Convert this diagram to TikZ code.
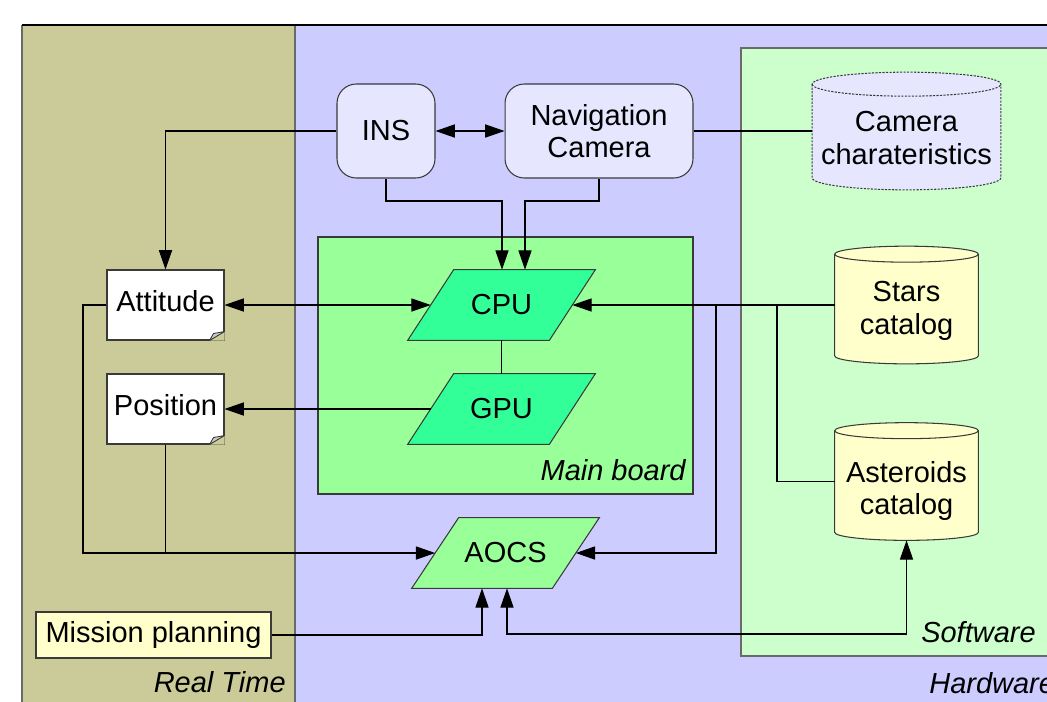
\documentclass[tikz,border=0pt]{standalone}
\usepackage{fontspec}
\setmainfont{Liberation Sans}
\usetikzlibrary{arrows.meta,calc}

\definecolor{rtbg}{HTML}{CBCB99}
\definecolor{hwbg}{HTML}{CCCCFF}
\definecolor{swbg}{HTML}{CCFFCC}
\definecolor{mbbg}{HTML}{99FF99}
\definecolor{proc}{HTML}{33FF99}
\definecolor{devbg}{HTML}{E6E6FF}
\definecolor{dbbg}{HTML}{FFFFCC}
\definecolor{edge}{HTML}{3A3A3A}
\definecolor{frame}{HTML}{6A6A6A}

\tikzset{
  every node/.style={font=\fontsize{16.5}{18.5}\selectfont, align=center, inner sep=0pt},
  panel/.style={draw=frame, line width=0.8pt},
  device/.style={draw=edge, fill=devbg, rounded corners=11pt, line width=0.6pt},
  note/.style={draw=edge, fill=white, line width=0.6pt, text depth=0.18cm},
  box/.style={draw=none, minimum width=#1},
  unit/.style={draw=edge, line width=0.6pt},
  link/.style={draw=black, line width=0.6pt},
  tip/.style={-{Triangle[length=11pt,width=7.5pt]}},
  tips/.style={{Triangle[length=11pt,width=7.5pt]}-{Triangle[length=11pt,width=7.5pt]}},
  caption/.style={font=\fontsize{16.5}{18.5}\selectfont\itshape},
}

% parallelogram drawn around a node: name, half skew, style
\newcommand{\slanted}[3]{%
  \path[#3] ($(#1.south west)+(-#2,0cm)$) -- ($(#1.north west)+(#2,0cm)$)
    -- ($(#1.north east)+(#2,0cm)$) -- ($(#1.south east)+(-#2,0cm)$) -- cycle;}

% storage drum drawn around a node: name, end radius, style
\newcommand{\drum}[3]{%
  \path[#3] let \p1=(#1.north west), \p2=(#1.south east), \n1={(\x2-\x1)/2} in
    ({\x1},{\y1-#2}) -- ({\x1},{\y2+#2})
    arc[start angle=180,end angle=360,x radius=\n1,y radius=#2]
    -- ({\x2},{\y1-#2})
    arc[start angle=0,end angle=180,x radius=\n1,y radius=#2] -- cycle;
  \path[#3,fill=none] let \p1=(#1.north west), \p2=(#1.south east), \n1={(\x2-\x1)/2} in
    ({\x1},{\y1-#2}) arc[start angle=180,end angle=360,x radius=\n1,y radius=#2];}

% folded corner of a note
\newcommand{\dogear}[1]{%
  \fill[rtbg] (#1.south east) -- ++(-0.3cm,0cm) -- ++(0.3cm,0.18cm) -- cycle;
  \draw[edge, fill=gray!40, line width=0.5pt, line join=round]
    ($(#1.south east)+(-0.3cm,0cm)$) -- ($(#1.south east)+(0cm,0.18cm)$)
    -- ($(#1.south east)+(-0.22cm,0.14cm)$) -- cycle;}

\begin{document}
\begin{tikzpicture}[x=0.02cm,y=-0.02cm]
\useasboundingbox (0,0) rectangle (1047,701);
\clip (0,0) rectangle (1047,701);

% domains
\fill[rtbg] (22,25) rectangle (295,720);
\fill[hwbg] (295,25) rectangle (1070,720);
\draw[panel] (22,720) -- (22,25);
\draw[panel] (295,25) -- (295,720);
\draw[line width=0.8pt] (22,25) -- (1070,25);
\draw[panel, fill=swbg] (741,48) rectangle (1070,656);
\draw[draw=edge, line width=0.7pt, fill=mbbg] (318,237) rectangle (693,494);

\node[caption, anchor=base east] (rtlab) at (286,692) {Real Time};
\node[caption, anchor=base west] (hwlab) at (929,693) {Hardware};
\node[caption, anchor=base east] (swlab) at (1036,642) {Software};
\node[caption, anchor=base east] (mblab) at (686,480) {Main board};

% sensors
\node[device, minimum width=1.96cm, minimum height=1.88cm] (ins) at (386,131) {INS};
\node[device, minimum width=3.76cm, minimum height=1.88cm] (nav) at (599,131) {Navigation\\Camera};

% data stores
\node[box=3.76cm, minimum height=2.34cm] (cam) at (906.5,131) {};
\drum{cam}{0.24cm}{draw=edge, fill=devbg, line width=0.6pt, dash pattern=on 1.2pt off 0.8pt}
\node (camtxt) at (906.5,138) {Camera\\charateristics};

\node[box=2.86cm, minimum height=2.34cm] (stars) at (906.5,305) {};
\drum{stars}{0.16cm}{draw=edge, fill=dbbg, line width=0.6pt}
\node (starstxt) at (906.5,311) {Stars\\catalog};

\node[box=2.86cm, minimum height=2.34cm] (ast) at (906.5,481.5) {};
\drum{ast}{0.16cm}{draw=edge, fill=dbbg, line width=0.6pt}
\node (asttxt) at (906.5,491) {Asteroids\\catalog};

% estimates
\node[note, minimum width=2.34cm, minimum height=1.4cm] (att) at (165.5,305) {Attitude};
\dogear{att}
\node[note, minimum width=2.34cm, minimum height=1.4cm] (pos) at (165.5,409) {Position};
\dogear{pos}

\node[draw=edge, fill=dbbg, line width=0.6pt, minimum width=4.7cm, minimum height=0.92cm] (mis) at (153.5,635) {Mission planning};

% processing units
\node[box=2.82cm, minimum height=1.4cm] (cpu) at (501.5,305) {};
\slanted{cpu}{0.46cm}{unit, fill=proc}
\node at (cpu) {CPU};
\node[box=2.82cm, minimum height=1.4cm] (gpu) at (501.5,409) {};
\slanted{gpu}{0.46cm}{unit, fill=proc}
\node at (gpu) {GPU};
\node[box=2.80cm, minimum height=1.4cm] (aocs) at (505.5,553) {};
\slanted{aocs}{0.47cm}{unit, fill=mbbg}
\node at (aocs) {AOCS};

% junctions
\coordinate (j1) at (502,201);
\coordinate (j2) at (525,201);
\coordinate (j3) at (777,305);
\coordinate (j4) at (716,305);
\coordinate (j5) at (83,553);
\coordinate (j6) at (482,634);
\coordinate (j7) at (507,634);

% connectors
\draw[link, tip] (ins.west) -| (att.north);
\draw[link, tips] (ins.east) -- (nav.west);
\draw[link] (nav.east) -- (cam.west);
\draw[link, tip] (ins.south) |- (j1) -- (j1 |- cpu.north);
\draw[link, tip] (nav.south) |- (j2) -- (j2 |- cpu.north);
\draw[link, tips] (att.east) -- (cpu.west);
\draw[link, tip] (gpu.west) -- (pos.east);
\draw[link] (cpu.south) -- (gpu.north);
\draw[link] (ast.west) -| (j3);
\draw[link, tip] (j4) |- (aocs.east);
\draw[link, tip] (stars.west) -- (cpu.east);
\draw[link, tip] (att.west) -| (j5) -- (aocs.west);
\draw[link] (pos.south) -- (pos.south |- j5);
\draw[link, tip] (mis.east) -| (aocs.south -| j6);
\draw[link, tips] (aocs.south -| j7) |- (j7 -| ast.south) -- (ast.south);
\end{tikzpicture}
\end{document}
